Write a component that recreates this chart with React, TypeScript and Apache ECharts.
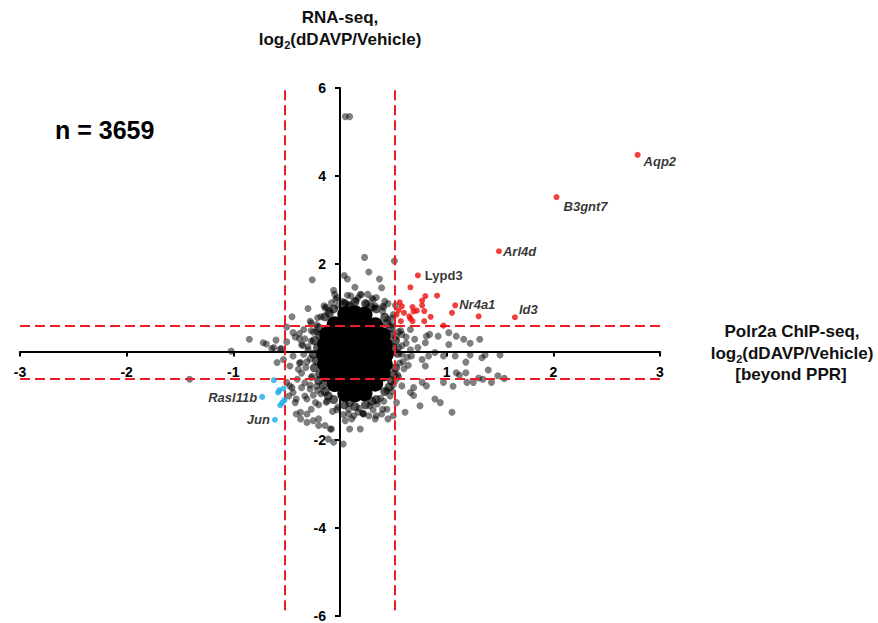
import React, { useEffect, useRef } from "react";
import * as echarts from "echarts";

// ---- data ----
const xTickMin = -3;
const xTickMax = 3;
const yTickMin = -6;
const yTickMax = 6;

const thresholdX = [-0.515, 0.515];
const thresholdY = [0.6, -0.61];

const geneNames = ["Aqp2", "B3gnt7", "Arl4d", "Lypd3", "Nr4a1", "Id3", "Rasl11b", "Jun"];
const geneX = [2.79, 2.03, 1.49, 0.73, 1.08, 1.64, -0.73, -0.61];
const geneY = [4.48, 3.52, 2.29, 1.74, 1.06, 0.79, -1.02, -1.54];
const geneUp = [true, true, true, true, true, true, false, false];

const redPoints: [number, number][] = [
  [1.30, 0.81], [1.05, 0.89], [0.91, 1.28], [0.80, 1.27], [0.66, 1.47], [0.77, 1.17],
  [0.77, 1.06], [0.72, 0.94], [0.68, 1.02], [0.79, 0.93], [0.85, 0.80], [0.79, 0.70],
  [0.66, 0.76], [0.56, 1.13], [0.58, 1.04], [0.55, 0.95], [0.60, 0.89], [0.53, 0.85],
  [0.65, 0.81], [0.57, 0.70], [0.97, 0.60], [0.69, 0.92], [0.68, 0.70],
];

const bluePoints: [number, number][] = [
  [-0.62, -0.64], [-0.58, -0.92], [-0.57, -0.87], [-0.53, -0.83],
  [-0.56, -1.21], [-0.54, -1.15], [-0.52, -1.09],
];

// dense centre of the cloud
const corePoints: [number, number][] = [
  [0.05, 0.86], [0.14, 0.88], [0.23, 0.85],
  [-0.05, 0.63], [0.05, 0.64], [0.14, 0.62], [0.23, 0.63], [0.33, 0.61],
  [-0.12, 0.40], [-0.03, 0.41], [0.05, 0.40], [0.14, 0.39], [0.23, 0.41], [0.33, 0.40], [0.40, 0.38],
  [-0.14, 0.18], [-0.05, 0.17], [0.05, 0.18], [0.14, 0.19], [0.23, 0.17], [0.33, 0.18], [0.42, 0.16],
  [-0.15, -0.05], [-0.05, -0.04], [0.05, -0.05], [0.14, -0.06], [0.23, -0.05], [0.33, -0.04], [0.43, -0.05],
  [-0.14, -0.28], [-0.05, -0.27], [0.05, -0.29], [0.14, -0.28], [0.23, -0.27], [0.33, -0.29], [0.42, -0.28],
  [-0.12, -0.50], [-0.03, -0.51], [0.05, -0.50], [0.14, -0.49], [0.23, -0.51], [0.33, -0.50], [0.40, -0.49],
  [-0.05, -0.73], [0.05, -0.72], [0.14, -0.74], [0.23, -0.73], [0.33, -0.72],
  [0.05, -0.95], [0.14, -0.96], [0.23, -0.94],
];

// dark rim just outside the solid centre
const rimPoints: [number, number][] = [
  [0.54, -0.03], [0.52, 0.26], [0.48, 0.55], [0.42, 0.79], [0.34, 0.98], [0.24, 1.10],
  [0.14, 1.14], [0.04, 1.10], [-0.06, 0.98], [-0.14, 0.80], [-0.20, 0.55], [-0.24, 0.26],
  [-0.25, -0.05], [-0.24, -0.36], [-0.20, -0.65], [-0.14, -0.90], [-0.06, -1.08], [0.04, -1.20],
  [0.14, -1.24], [0.24, -1.20], [0.34, -1.08], [0.42, -0.90], [0.48, -0.65], [0.52, -0.36],
  [0.50, 0.10], [0.47, 0.40], [0.44, 0.65], [0.29, 1.02], [0.09, 1.05], [-0.10, 0.88],
  [-0.19, 0.38], [-0.21, 0.10], [-0.22, -0.20], [-0.19, -0.50], [-0.11, -1.00], [0.09, -1.15],
  [0.30, -1.12], [0.46, -0.80], [0.50, -0.50], [-0.16, -0.75],
];

// halo of overlapping points around the centre
const haloPoints: [number, number][] = [
  [0.55, 0.10], [0.58, -0.05], [0.56, -0.25], [0.62, 0.20], [0.60, -0.38], [0.53, 0.35],
  [0.54, -0.52], [0.63, -0.12], [0.66, 0.05], [0.52, -0.65], [0.57, 0.48],
  [0.45, 0.75], [0.40, 0.92], [0.33, 1.05], [0.48, 0.62], [0.50, 0.85], [0.42, 1.15],
  [0.25, 1.10], [0.15, 1.18], [0.05, 1.12], [0.20, 1.30], [0.10, 1.28], [-0.02, 1.05], [0.30, 1.22],
  [-0.10, 0.95], [-0.18, 0.80], [-0.22, 0.62], [-0.15, 1.05], [-0.25, 0.45], [-0.28, 0.70],
  [-0.27, 0.25], [-0.30, 0.05], [-0.28, -0.15], [-0.32, -0.35], [-0.26, -0.55], [-0.35, 0.15],
  [-0.34, -0.05], [-0.38, -0.25],
  [-0.22, -0.78], [-0.18, -0.95], [-0.12, -1.12], [-0.25, -0.98], [-0.28, -0.75], [-0.20, -1.20],
  [-0.02, -1.25], [0.08, -1.30], [0.18, -1.28], [0.28, -1.22], [0.03, -1.42], [0.13, -1.45],
  [0.22, -1.40], [-0.07, -1.35],
  [0.38, -1.05], [0.44, -0.88], [0.50, -0.75], [0.35, -1.18], [0.47, -1.00], [0.40, -1.30],
  [0.58, 0.14], [0.55, 0.46], [0.49, 0.77], [0.41, 1.02], [0.31, 1.19], [0.19, 1.31],
  [0.07, 1.29], [-0.04, 1.19], [-0.13, 1.02], [-0.21, 0.78], [-0.27, 0.49], [-0.30, 0.12],
  [-0.31, -0.22], [-0.27, -0.58], [-0.21, -0.87], [-0.13, -1.14], [-0.03, -1.31], [0.08, -1.41],
  [0.21, -1.39], [0.31, -1.31], [0.41, -1.12], [0.49, -0.89], [0.55, -0.57], [0.59, -0.22],
  [-0.36, -0.48], [-0.40, -0.62], [-0.33, -0.70], [-0.38, 0.30], [0.64, -0.30], [0.62, 0.34],
];

// scattered points
const grayPoints: [number, number][] = [
  [0.05, 5.35], [0.09, 5.35],
  [-0.26, 1.64], [-0.06, 1.40], [-0.05, 1.31], [-0.30, 0.99], [-0.45, 0.80], [-0.50, 0.57],
  [-0.85, 0.29], [-0.69, 0.18], [-0.60, 0.27], [-0.50, 0.23], [-0.64, 0.08], [-0.55, 0.08],
  [-0.44, 0.44], [-0.38, 0.42], [-0.42, 0.34], [-0.34, 0.51], [-0.33, 0.30], [-1.02, 0.02],
  [-0.36, 0.17], [-0.27, 0.66], [-0.22, 0.46], [-0.14, 1.00], [-0.08, 1.12],
  [0.23, 2.15], [0.51, 2.07], [0.27, 1.82], [0.04, 1.74], [0.07, 1.66], [0.37, 1.66],
  [0.14, 1.47], [0.39, 1.46], [0.17, 1.24], [0.26, 1.31], [0.34, 1.24], [0.45, 1.10],
  [0.40, 1.04], [0.08, 1.06], [0.02, 1.15], [-0.03, 1.24], [0.32, 1.00], [0.52, 1.06],
  [0.58, 0.40], [0.70, 0.29], [0.80, 0.21], [0.84, 0.40], [0.73, 0.10], [1.02, 0.17], [0.66, 0.51],
  [0.81, 0.36], [0.92, 0.36], [1.09, 0.36], [1.16, 0.29], [1.31, 0.29], [1.50, -0.07],
  [1.22, -0.07], [1.09, -0.47], [1.19, -0.69], [1.25, -0.69], [1.42, -0.69], [1.48, -0.54],
  [0.69, -0.81], [0.81, -0.77], [0.89, -1.07], [0.94, -1.15], [1.05, -1.37], [0.69, -0.99],
  [0.53, -1.15], [0.44, -1.30], [0.34, -1.45], [0.19, -1.75], [0.09, -1.75], [0.03, -2.09],
  [-0.06, -2.05], [-0.09, -1.75], [-0.20, -1.67], [-0.25, -1.56], [-0.31, -1.41], [-0.41, -1.41],
  [-0.37, -1.52], [-0.44, -0.92], [-0.47, -0.77], [-0.42, -1.15], [-0.31, -1.07], [-0.72, 0.21],
  [-1.41, -0.62], [-0.62, 0.10], [-0.56, 0.06], [-0.44, -0.09], [-0.37, -0.24], [-0.39, -0.39],
  [-0.47, -0.32], [-0.53, -0.17], [-0.59, -0.24],
  [-0.50, -0.69], [-0.41, -1.07], [-0.33, -1.00], [-0.37, -1.37], [-0.27, -1.30], [-0.31, -1.60],
  [-0.20, -1.52], [-0.14, -1.67], [-0.08, -1.75], [-0.11, -1.98], [-0.48, -1.00], [-0.45, -0.81],
  [-0.36, -0.81], [-0.28, -0.84], [-0.23, -1.15],
  [0.75, -1.22], [0.61, -1.37], [0.50, -1.45], [0.39, -1.41], [0.33, -1.52], [0.27, -1.45],
  [0.22, -1.41], [0.17, -1.37], [0.11, -1.52], [0.05, -1.56], [0.45, -1.52], [0.58, -0.77],
  [0.66, -0.92], [0.77, -0.69], [0.67, -0.09], [0.77, -0.17], [0.80, -0.32], [0.83, -0.09], [0.89, -0.01],
  [1.02, 0.44], [1.22, 0.20], [1.08, -0.09], [0.97, -0.09], [1.18, -0.23], [1.33, -0.13],
  [1.36, -0.07], [1.39, -0.41], [1.12, -0.53], [1.18, -0.47], [1.30, -0.59], [1.34, -0.62],
  [1.54, -0.60], [1.06, -0.78], [0.97, -0.69],
];

const sampleSize = "n = 3659";

// ---- styling (not data) ----
const FONT = "'Liberation Sans', Arial, sans-serif";
const RED = "#ee0f0f";
const BLUE = "#1aabe3";
const DASH = "#ee1c25";

const labelStyle: Record<string, { position: string; distance: number; offset: number[]; italic: boolean }> = {
  Aqp2: { position: "right", distance: 3, offset: [0, 7], italic: true },
  B3gnt7: { position: "right", distance: 4, offset: [0, 9], italic: true },
  Arl4d: { position: "right", distance: 1, offset: [0, 0], italic: true },
  Lypd3: { position: "right", distance: 4, offset: [0, 0], italic: false },
  Nr4a1: { position: "right", distance: 1, offset: [0, -1], italic: true },
  Id3: { position: "right", distance: 1, offset: [0, -8], italic: true },
  Rasl11b: { position: "left", distance: 2, offset: [0, 1], italic: true },
  Jun: { position: "left", distance: 2, offset: [0, 0], italic: true },
};

const GRID = { left: 20, right: 218, top: 88, bottom: 6 };
const W = 878;
const H = 623;

export default function App() {
  const ref = useRef<HTMLDivElement>(null);
  useEffect(() => {
    if (!ref.current) return;
    const chart = echarts.init(ref.current, undefined, { renderer: "svg" });

    const plotW = W - GRID.left - GRID.right;
    const plotH = H - GRID.top - GRID.bottom;
    // place the axes through the origin (labels follow them)
    const xOffset = -(plotH * (0 - yTickMin)) / (yTickMax - yTickMin);
    const yOffset = -(plotW * (0 - xTickMin)) / (xTickMax - xTickMin);

    const geneItems = (up: boolean) =>
      geneNames
        .map((n, i) => ({ n, i }))
        .filter(({ i }) => geneUp[i] === up)
        .map(({ n, i }) => {
          const s = labelStyle[n];
          return {
            name: n,
            value: [geneX[i], geneY[i]],
            label: {
              show: true,
              formatter: n,
              position: s.position,
              distance: s.distance,
              offset: s.offset,
              fontStyle: s.italic ? "italic" : "normal",
              fontWeight: "bold",
              fontSize: 13,
              fontFamily: FONT,
              color: "#000",
            },
          };
        });

    const markLines: any[] = [
      ...thresholdY.map((y) => [{ coord: [xTickMin, y] }, { coord: [xTickMax, y] }]),
      ...thresholdX.map((x) => [{ coord: [x, yTickMax - 0.05] }, { coord: [x, yTickMin + 0.04] }]),
    ];

    const axisLabel = {
      margin: 13,
      color: "#000",
      fontWeight: "bold",
      fontSize: 14,
      fontFamily: FONT,
      formatter: (v: number) => (v === 0 ? "" : String(v)),
    };

    const option: any = {
      animation: false,
      grid: { ...GRID, containLabel: false },
      xAxis: {
        type: "value",
        min: xTickMin,
        max: xTickMax,
        interval: 1,
        position: "bottom",
        offset: xOffset,
        splitLine: { show: false },
        axisLine: { onZero: false, lineStyle: { color: "#000", width: 2 } },
        axisTick: { show: true, length: 5, lineStyle: { color: "#000", width: 2 } },
        axisLabel,
      },
      yAxis: {
        type: "value",
        min: yTickMin,
        max: yTickMax,
        interval: 2,
        position: "left",
        offset: yOffset,
        splitLine: { show: false },
        axisLine: { onZero: false, lineStyle: { color: "#000", width: 2 } },
        axisTick: { show: true, length: 5, lineStyle: { color: "#000", width: 2 } },
        axisLabel: { ...axisLabel, margin: 14 },
      },
      series: [
        {
          type: "scatter",
          data: corePoints,
          symbolSize: 16,
          itemStyle: { color: "#000", opacity: 1 },
          silent: true,
          z: 2,
        },
        {
          type: "scatter",
          data: rimPoints,
          symbolSize: 9,
          itemStyle: { color: "#000", opacity: 0.65 },
          silent: true,
          z: 3,
        },
        {
          type: "scatter",
          data: haloPoints,
          symbolSize: 7,
          itemStyle: { color: "#000", opacity: 0.5 },
          silent: true,
          z: 3,
        },
        {
          type: "scatter",
          data: grayPoints,
          symbolSize: 7,
          itemStyle: { color: "#000", opacity: 0.5 },
          silent: true,
          z: 3,
        },
        {
          type: "scatter",
          data: [],
          silent: true,
          z: 5,
          markLine: {
            silent: true,
            symbol: ["none", "none"],
            label: { show: false },
            lineStyle: { color: DASH, width: 2, type: [10, 5] },
            data: markLines,
          },
        },
        {
          type: "scatter",
          data: redPoints,
          symbolSize: 6,
          itemStyle: { color: RED },
          silent: true,
          z: 6,
        },
        {
          type: "scatter",
          data: bluePoints,
          symbolSize: 6,
          itemStyle: { color: BLUE },
          silent: true,
          z: 6,
        },
        {
          type: "scatter",
          data: geneItems(true),
          symbolSize: 6,
          itemStyle: { color: RED },
          silent: true,
          z: 7,
        },
        {
          type: "scatter",
          data: geneItems(false),
          symbolSize: 6,
          itemStyle: { color: BLUE },
          silent: true,
          z: 7,
        },
      ],
      graphic: [
        {
          type: "text",
          left: 55,
          top: 117,
          style: { text: sampleSize, font: `bold 25px ${FONT}`, fill: "#000" },
        },
        {
          type: "text",
          x: 340,
          y: 17,
          style: { text: "RNA-seq,", font: `bold 17px ${FONT}`, fill: "#111", align: "center", verticalAlign: "middle" },
        },
        {
          type: "text",
          x: 340,
          y: 39,
          style: {
            text: "{a|log}{s|2}{a|(dDAVP/Vehicle)}",
            align: "center",
            verticalAlign: "middle",
            rich: {
              a: { font: `bold 17px ${FONT}`, fill: "#111", lineHeight: 22, verticalAlign: "middle" },
              s: { font: `bold 11px ${FONT}`, fill: "#111", lineHeight: 22, verticalAlign: "bottom" },
            },
          },
        },
        {
          type: "text",
          x: 792,
          y: 331,
          style: { text: "Polr2a ChIP-seq,", font: `bold 17px ${FONT}`, fill: "#111", align: "center", verticalAlign: "middle" },
        },
        {
          type: "text",
          x: 792,
          y: 353,
          style: {
            text: "{a|log}{s|2}{a|(dDAVP/Vehicle)}",
            align: "center",
            verticalAlign: "middle",
            rich: {
              a: { font: `bold 17px ${FONT}`, fill: "#111", lineHeight: 22, verticalAlign: "middle" },
              s: { font: `bold 11px ${FONT}`, fill: "#111", lineHeight: 22, verticalAlign: "bottom" },
            },
          },
        },
        {
          type: "text",
          x: 791,
          y: 374,
          style: { text: "[beyond PPR]", font: `bold 17px ${FONT}`, fill: "#111", align: "center", verticalAlign: "middle" },
        },
      ],
    };

    chart.setOption(option);
    return () => chart.dispose();
  }, []);

  return (
    <div
      ref={ref}
      style={{ position: "absolute", left: 0, top: 0, width: W, height: H, background: "#fff" }}
    />
  );
}
